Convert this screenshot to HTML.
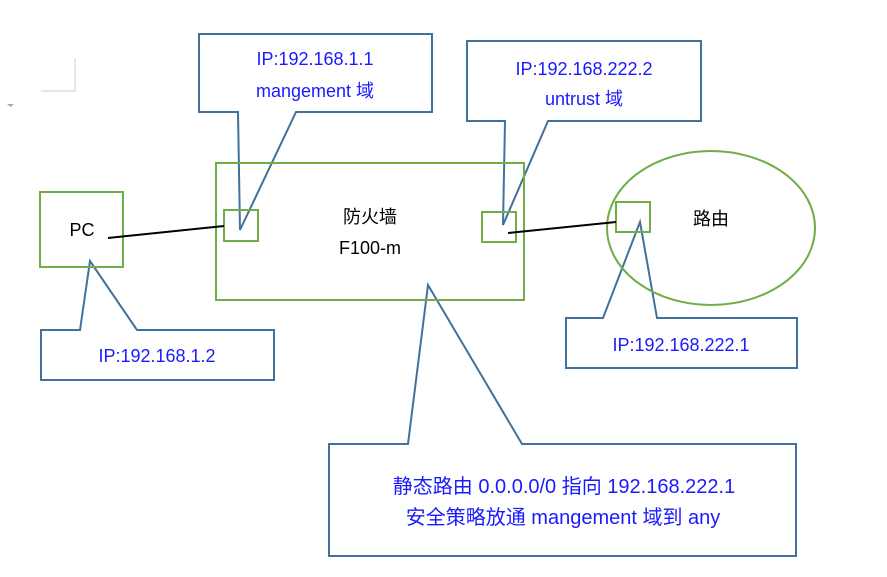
<!DOCTYPE html>
<html><head><meta charset="utf-8"><style>
html,body{margin:0;padding:0;background:#fff;}
svg{display:block;}
text{font-family:"Liberation Sans","Noto Sans CJK SC",sans-serif;font-size:18px;}
.b{fill:#1a1aff;}
.c{font-size:20px;}
</style></head><body>
<svg width="887" height="577" viewBox="0 0 887 577" xmlns="http://www.w3.org/2000/svg">
<path d="M75,58 V91 H41" fill="none" stroke="#ccc" stroke-width="1"/>
<path d="M7,104 h7 l-3.5,3z" fill="#aaa"/>
<g fill="#fff" stroke="#41719c" stroke-width="2" stroke-linejoin="miter">
<polygon points="199,34 432,34 432,112 296,112 240,230 238,112 199,112"/>
<polygon points="467,41 701,41 701,121 548,121 503,225 505,121 467,121"/>
<polygon points="41,330 80,330 90,261 137,330 274,330 274,380 41,380"/>
<polygon points="566,318 603,318 640,222 657,318 797,318 797,368 566,368"/>
<polygon points="329,444 408,444 428,285 522,444 796,444 796,556 329,556"/>
</g>
<g fill="none" stroke="#70ad47" stroke-width="2">
<rect x="40" y="192" width="83" height="75"/>
<rect x="216" y="163" width="308" height="137"/>
<rect x="224" y="210" width="34" height="31"/>
<rect x="482" y="212" width="34" height="30"/>
<ellipse cx="711" cy="228" rx="104" ry="77"/>
<rect x="616" y="202" width="34" height="30"/>
</g>
<g stroke="#000" stroke-width="2">
<line x1="108" y1="238" x2="224" y2="226"/>
<line x1="508" y1="233" x2="616" y2="222"/>
</g>
<text x="82" y="236" text-anchor="middle">PC</text>
<text x="370" y="223" text-anchor="middle">防火墙</text>
<text x="370" y="254" text-anchor="middle">F100-m</text>
<text x="711" y="225" text-anchor="middle">路由</text>
<text class="b" x="315" y="65" text-anchor="middle">IP:192.168.1.1</text>
<text class="b" x="315" y="97" text-anchor="middle">mangement 域</text>
<text class="b" x="584" y="75" text-anchor="middle">IP:192.168.222.2</text>
<text class="b" x="584" y="105" text-anchor="middle">untrust 域</text>
<text class="b" x="157" y="362" text-anchor="middle">IP:192.168.1.2</text>
<text class="b" x="681" y="351" text-anchor="middle">IP:192.168.222.1</text>
<text class="b c" x="564" y="493" text-anchor="middle">静态路由 0.0.0.0/0  指向 192.168.222.1</text>
<text class="b c" x="563" y="524" text-anchor="middle">安全策略放通 mangement 域到 any</text>
</svg>
</body></html>
